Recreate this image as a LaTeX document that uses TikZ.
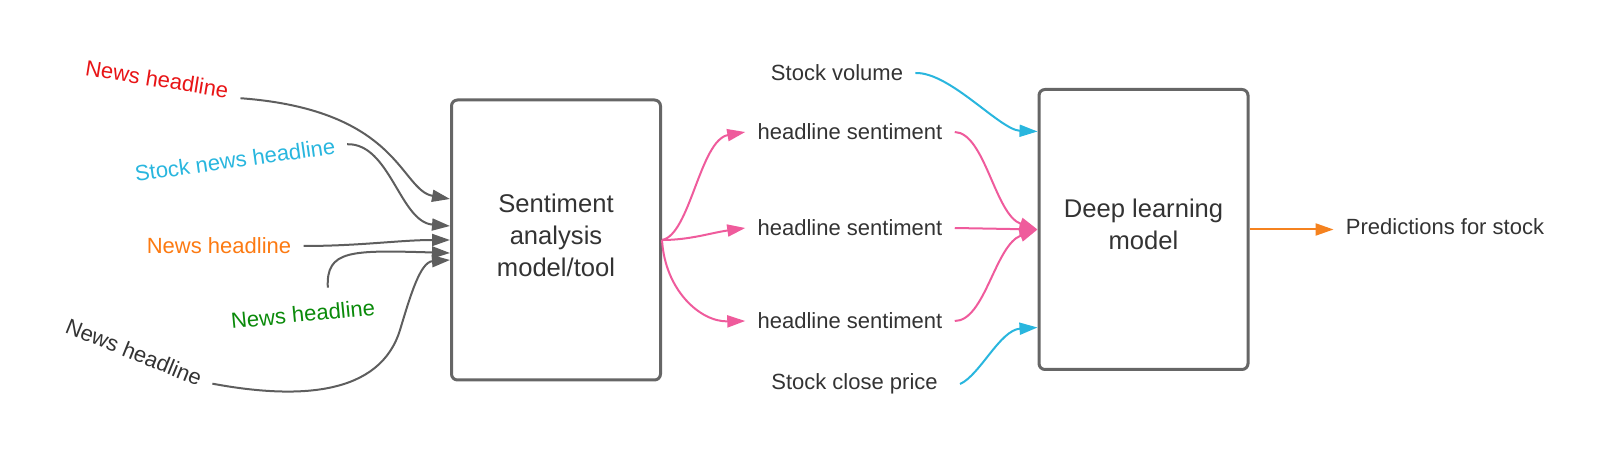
\documentclass[tikz,border=0pt]{standalone}
\usepackage{fontspec}
\setmainfont{Liberation Sans}
\usepackage{tikz}
\usetikzlibrary{arrows.meta,calc}
\definecolor{txt}{HTML}{333333}
\definecolor{linegray}{HTML}{5E5E5E}
\definecolor{boxgray}{HTML}{666666}
\definecolor{newsred}{HTML}{E81416}
\definecolor{newscyan}{HTML}{29B6DE}
\definecolor{newsorange}{HTML}{FC7A12}
\definecolor{newsgreen}{HTML}{0A8A0A}
\definecolor{senti}{HTML}{EF5B9C}
\definecolor{predorange}{HTML}{F5821F}

\begin{document}
\begin{tikzpicture}[x=0.5pt,y=-0.5pt,
    lbl/.style={inner xsep=6pt,inner ysep=2pt,font=\fontsize{11}{13}\selectfont,text=txt},
    model/.style={draw=boxgray,line width=1.5pt,rounded corners=3pt,
      minimum width=104.5pt,minimum height=140pt,align=center,text depth=5pt,
      font=\fontsize{12.8}{16}\selectfont,text=txt},
    feed/.style={draw=linegray,line width=1pt,-{Triangle[length=9pt,width=6pt]}},
    sentiline/.style={feed,draw=senti},
    extraline/.style={feed,draw=newscyan},
  ]
        \useasboundingbox (0,0) rectangle (1598,458);

        \path
        (157,79) node[lbl,text=newsred,rotate=-9] (n1) {News headline}
        (235,160) node[lbl,text=newscyan,rotate=8] (n2) {Stock news headline}
        (219,246) node[lbl,text=newsorange] (n3) {News headline}
        (303,314) node[lbl,text=newsgreen,rotate=5.5] (n4) {News headline}
        (134,352) node[lbl,rotate=-22] (n5) {News headline}
        ;

        \path
        (556,240) node[model] (sa) {Sentiment\\analysis\\model/tool}
        (1143.5,229.5) node[model] (dl) {Deep learning\\model}
        ;

        \path
        (837,73) node[lbl] (vol) {Stock volume}
        (850,132) node[lbl] (hs1) {headline sentiment}
        (850,228) node[lbl] (hs2) {headline sentiment}
        (850,321) node[lbl] (hs3) {headline sentiment}
        (854.5,384) node[lbl] (close) {Stock close price}
        (1445,227) node[lbl] (pred) {Predictions for stock}
        ;

        \draw[feed] ($(n1.east)+(0,6)$) .. controls (400,110) and (400,190) .. ($(sa.west)+(0,-41)$);
        \draw[feed] (n2.east) .. controls (390,143) and (400,222) .. ($(sa.west)+(0,-14)$);
        \draw[feed] (n3.east) .. controls (360,246) and (400,240) .. (sa.west);
        \draw[feed] ($(n4.north)+(26,-14)$) .. controls (326,250) and (350,250) .. ($(sa.west)+(0,13)$);
        \draw[feed] (n5.east) .. controls (300,400) and (380,395) .. (400,330)
        .. controls (410,297) and (420,262) .. ($(sa.west)+(0,20)$);

        \draw[sentiline] (sa.east) .. controls (690,235) and (700,140) .. (hs1.west);
        \draw[sentiline] (sa.east) .. controls (690,240) and (710,233) .. (hs2.west);
        \draw[sentiline] (sa.east) .. controls (665,290) and (700,322) .. (hs3.west);

        \draw[sentiline] (hs1.east) .. controls (985,133) and (995,215) .. (dl.west);
        \draw[sentiline] (hs2.east) -- (dl.west);
        \draw[sentiline] (hs3.east) .. controls (985,321) and (995,245) .. (dl.west);

        \draw[extraline] (vol.east) .. controls (950,72) and (1000,130) .. ($(dl.west)+(0,-98)$);
        \draw[extraline] ($(close.east)+(10,0)$) .. controls (980,375) and (1000,330) .. ($(dl.west)+(0,98)$);

        \draw[feed,draw=predorange] (dl.east) -- (dl.east -| pred.west);
      \end{tikzpicture}
\end{document}
